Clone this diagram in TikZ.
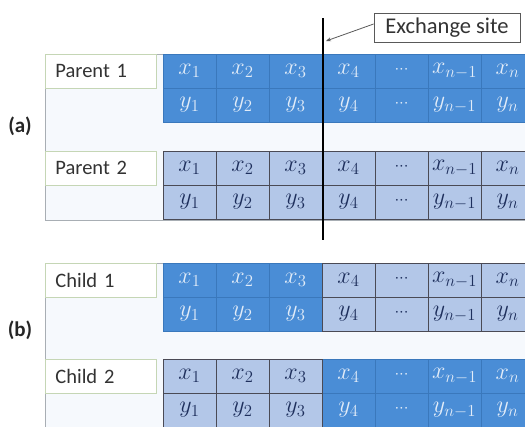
\documentclass[tikz,border=0pt]{standalone}
\usepackage{fix-cm}
\usepackage{fontspec}
\setmainfont{Carlito}
\usetikzlibrary{arrows.meta}
\definecolor{dkfill}{HTML}{4A8DD6}
\definecolor{dkline}{HTML}{3A78BC}
\definecolor{ltfill}{HTML}{B3C7E8}
\definecolor{ltline}{HTML}{4A4A55}
\definecolor{dktext}{HTML}{E2ECF8}
\definecolor{lttext}{HTML}{1E2F5C}
\definecolor{panelbg}{HTML}{F6F9FD}
\definecolor{panelline}{HTML}{A8AEB4}
\definecolor{labline}{HTML}{C5D6B5}
\tikzset{
  cellbase/.style={rectangle, minimum width=53pt, minimum height=34pt, inner sep=0pt,
    font=\fontsize{24}{26}\selectfont, line width=0.8pt},
  dkbox/.style={cellbase, fill=dkfill, draw=dkline, text=dktext},
  ltbox/.style={cellbase, fill=ltfill, draw=ltline, text=lttext},
  panel/.style={fill=panelbg, draw=panelline, line width=0.8pt},
  labbox/.style={rectangle, anchor=north west, minimum width=111pt, minimum height=34pt,
    inner xsep=10pt, text width=91pt, align=left, fill=white, draw=labline, line width=0.8pt,
    font=\fontsize{20.5}{22}\selectfont, text=black!80},
  partlab/.style={font=\bfseries\fontsize{21}{23}\selectfont, text=black!85},
  exbox/.style={rectangle, draw=black!65, fill=white, minimum width=146pt, minimum height=29pt,
    inner sep=0pt, font=\fontsize{22.5}{24}\selectfont, text=black!80, line width=0.8pt},
  cutline/.style={line width=2.6pt, black}
}
\newcommand\mydots{\raisebox{3pt}{$\scriptstyle\cdots$}}
\begin{document}
\begin{tikzpicture}[x=1pt,y=-1pt]
\useasboundingbox (0,0) rectangle (525,426);
\fill[white] (0,0) rectangle (525,426);
% panels
\draw[panel] (45,54) rectangle (545,220);
\draw[panel] (45,263) rectangle (545,445);
% label boxes
\node[labbox] (lpa) at (45,54) {Parent 1};
\node[labbox] (lpb) at (45,151) {Parent 2};
\node[labbox] (lca) at (45,263) {Child 1};
\node[labbox] (lcb) at (45,359) {Child 2};
% cells: two passes (dark first, light on top)
\foreach \pass in {1,0} {
  \foreach \nm/\ty/\ca/\cb in {pa/54/1/1, pb/151/0/0, ca/263/1/0, cb/359/0/1} {
    \foreach \i/\xt/\yt in {1/$x_1$/$y_1$, 2/$x_2$/$y_2$, 3/$x_3$/$y_3$, 4/$x_4$/$y_4$, 5/\mydots/\mydots, 6/$x_{n-1}$/$y_{n-1}$, 7/$x_n$/$y_n$} {
      \ifnum\i<4 \edef\st{\ca}\else\edef\st{\cb}\fi
      \ifnum\st=\pass
        \ifnum\st=1
          \node[dkbox] (\nm x\i) at ({163+53*(\i-1)+26.5},{\ty+17}) {\xt};
          \node[dkbox] (\nm y\i) at ({163+53*(\i-1)+26.5},{\ty+51}) {\yt};
        \else
          \node[ltbox] (\nm x\i) at ({163+53*(\i-1)+26.5},{\ty+17}) {\xt};
          \node[ltbox] (\nm y\i) at ({163+53*(\i-1)+26.5},{\ty+51}) {\yt};
        \fi
      \fi
    }
  }
}
% part labels
\node[partlab] (la) at (20,126) {(a)};
\node[partlab] (lb) at (20,330) {(b)};
% exchange site
\coordinate (cuttop) at (323,18);
\coordinate (cutbot) at (323,240);
\coordinate (arrtip) at (326,41);
\draw[cutline] (cuttop) -- (cutbot);
\node[exbox] (exch) at (447,27.5) {Exchange site};
\draw[black!65, line width=0.8pt, -{Stealth[length=5pt,width=4pt]}] ([yshift=3.5pt]exch.west) -- (arrtip);
\end{tikzpicture}
\end{document}
